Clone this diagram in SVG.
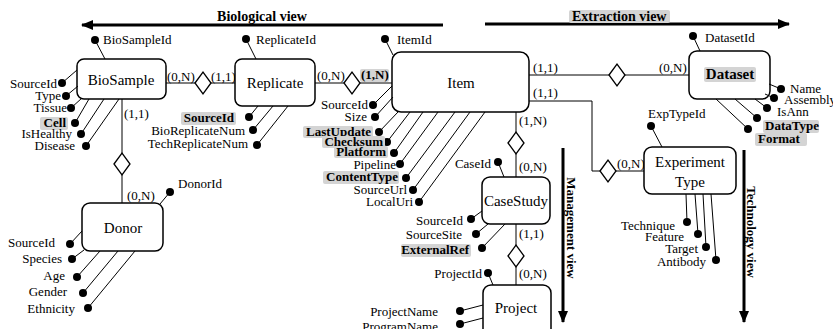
<svg xmlns="http://www.w3.org/2000/svg" width="833" height="329" viewBox="0 0 833 329">
<style>
.box{fill:#fff;stroke:#000;stroke-width:1.5}
.ln{stroke:#000;stroke-width:1;fill:none}
.dia{fill:#fff;stroke:#000;stroke-width:1.3}
.dot{fill:#000}
text{font-family:"Liberation Serif","Times New Roman",serif;fill:#000}
.t{font-size:13px}
.b{font-size:13px;font-weight:bold}
.n{font-size:15px}
.v{font-size:14px;font-weight:bold}
.vv{font-size:13px;font-weight:bold}
.e{text-anchor:end}
.m{text-anchor:middle}
.hl{fill:#d4d4d4}
.arr{stroke:#000;stroke-width:3;fill:none}
</style>
<defs>
<marker id="ah" viewBox="0 0 12 10" refX="11" refY="5" markerWidth="4" markerHeight="3.4" orient="auto" markerUnits="strokeWidth">
<path d="M0,0 L12,5 L0,10 Z" fill="#000"/>
</marker>
</defs>

<!-- views -->
<g id="views">
<line class="arr" x1="443" y1="25" x2="82" y2="25" marker-end="url(#ah)"/>
<text class="v m" x="262" y="21">Biological view</text>
<line class="arr" x1="485" y1="24" x2="789" y2="24" marker-end="url(#ah)"/>
<rect class="hl" x="569" y="10" width="101" height="13" rx="2"/>
<text class="v" x="572" y="21">Extraction view</text>
<line class="arr" x1="563" y1="148" x2="563" y2="322" marker-end="url(#ah)"/>
<text class="vv m" transform="translate(567,228) rotate(90)">Management view</text>
<line class="arr" x1="744" y1="150" x2="744" y2="322" marker-end="url(#ah)"/>
<text class="vv m" transform="translate(747,232) rotate(90)">Technology view</text>
</g>

<!-- connectors -->
<g id="connectors">
<line class="ln" x1="166" y1="83" x2="235" y2="83"/>
<polygon class="dia" points="195,83 203,72 211,83 203,94"/>
<line class="ln" x1="315" y1="83" x2="392" y2="83"/>
<polygon class="dia" points="344,83 352,72 360,83 352,94"/>
<line class="ln" x1="529" y1="75" x2="689" y2="75"/>
<polygon class="dia" points="609,75 617,64 625,75 617,86"/>
<polyline class="ln" points="529,101 592,101 592,171 644,171"/>
<polygon class="dia" points="600,171 608,160 616,171 608,182"/>
<line class="ln" x1="516" y1="112" x2="516" y2="177"/>
<polygon class="dia" points="508,143 516,132 524,143 516,154"/>
<line class="ln" x1="516" y1="224" x2="516" y2="285"/>
<polygon class="dia" points="508,256 516,245 524,256 516,267"/>
<line class="ln" x1="122" y1="99" x2="122" y2="203"/>
<polygon class="dia" points="114,164 122,153 130,164 122,175"/>
<text class="t" x="167" y="81">(0,N)</text>
<text class="t" x="211" y="81">(1,1)</text>
<text class="t" x="317" y="80">(0,N)</text>
<rect class="hl" x="360" y="69" width="29" height="13" rx="2"/>
<text class="b" x="361" y="79">(1,N)</text>
<text class="t" x="533" y="72">(1,1)</text>
<text class="t" x="659" y="72">(0,N)</text>
<text class="t" x="533" y="97">(1,1)</text>
<text class="t" x="617" y="168">(0,N)</text>
<text class="t" x="519" y="125">(1,N)</text>
<text class="t" x="519" y="171">(0,N)</text>
<text class="t" x="519" y="238">(1,1)</text>
<text class="t" x="519" y="278">(0,N)</text>
<text class="t" x="124" y="118">(1,1)</text>
<text class="t" x="127" y="200">(0,N)</text>
</g>

<g id="biosample">
<rect class="box" x="77" y="59" width="89" height="40" rx="7"/>
<text class="n m" x="121" y="85">BioSample</text>
<line class="ln" x1="95" y1="40" x2="105" y2="59"/><circle class="dot" cx="95" cy="40" r="4"/>
<text class="t" x="103" y="44">BioSampleId</text>
<line class="ln" x1="62" y1="83" x2="77" y2="70"/><circle class="dot" cx="62" cy="83" r="4"/>
<text class="t e" x="57" y="88">SourceId</text>
<line class="ln" x1="66" y1="96" x2="78" y2="86"/><circle class="dot" cx="66" cy="96" r="4"/>
<text class="t e" x="61" y="100">Type</text>
<line class="ln" x1="71" y1="108" x2="82" y2="98"/><circle class="dot" cx="71" cy="108" r="4"/>
<text class="t e" x="67" y="112">Tissue</text>
<line class="ln" x1="75" y1="123" x2="89" y2="99"/><circle class="dot" cx="75" cy="123" r="4"/>
<rect class="hl" x="40" y="117" width="28" height="13" rx="2"/>
<text class="b e" x="66" y="127">Cell</text>
<line class="ln" x1="81" y1="134" x2="104" y2="99"/><circle class="dot" cx="81" cy="134" r="4"/>
<text class="t e" x="72" y="138">IsHealthy</text>
<line class="ln" x1="86" y1="146" x2="119" y2="99"/><circle class="dot" cx="86" cy="146" r="4"/>
<text class="t e" x="75" y="150">Disease</text>
</g>

<g id="replicate">
<rect class="box" x="235" y="59" width="80" height="47" rx="7"/>
<text class="n m" x="275" y="88">Replicate</text>
<line class="ln" x1="246" y1="39" x2="256" y2="59"/><circle class="dot" cx="246" cy="39" r="4"/>
<text class="t" x="256" y="44">ReplicateId</text>
<line class="ln" x1="249" y1="117" x2="258" y2="106"/><circle class="dot" cx="249" cy="117" r="4"/>
<rect class="hl" x="181" y="112" width="55" height="13" rx="2"/>
<text class="b e" x="234" y="122">SourceId</text>
<line class="ln" x1="253" y1="130" x2="273" y2="106"/><circle class="dot" cx="253" cy="130" r="4"/>
<text class="t e" x="245" y="135">BioReplicateNum</text>
<line class="ln" x1="257" y1="145" x2="288" y2="106"/><circle class="dot" cx="257" cy="145" r="4"/>
<text class="t e" x="248" y="148">TechReplicateNum</text>
</g>

<g id="item">
<rect class="box" x="392" y="52" width="137" height="60" rx="9"/>
<text class="n m" x="461" y="88">Item</text>
<line class="ln" x1="385" y1="39" x2="393" y2="55"/><circle class="dot" cx="385" cy="39" r="4"/>
<text class="t" x="397" y="44">ItemId</text>
<line class="ln" x1="373" y1="105" x2="392" y2="86"/><circle class="dot" cx="373" cy="105" r="4"/>
<text class="t e" x="368" y="109">SourceId</text>
<line class="ln" x1="375" y1="117" x2="393" y2="97"/><circle class="dot" cx="375" cy="117" r="4"/>
<text class="t e" x="367" y="121">Size</text>
<line class="ln" x1="379" y1="132" x2="398" y2="112"/><circle class="dot" cx="379" cy="132" r="4"/>
<rect class="hl" x="303" y="126" width="70" height="12" rx="2"/>
<text class="b e" x="371" y="136">LastUpdate</text>
<line class="ln" x1="387" y1="142" x2="410" y2="112"/><circle class="dot" cx="387" cy="142" r="4"/>
<rect class="hl" x="322" y="136" width="63" height="12" rx="2"/>
<text class="b e" x="383" y="146">Checksum</text>
<line class="ln" x1="394" y1="153" x2="423" y2="112"/><circle class="dot" cx="394" cy="153" r="4"/>
<rect class="hl" x="334" y="146" width="54" height="12" rx="2"/>
<text class="b e" x="386" y="156">Platform</text>
<line class="ln" x1="400" y1="164" x2="438" y2="112"/><circle class="dot" cx="400" cy="164" r="4"/>
<text class="t e" x="396" y="169">Pipeline</text>
<line class="ln" x1="406" y1="178" x2="455" y2="112"/><circle class="dot" cx="406" cy="178" r="4"/>
<rect class="hl" x="323" y="171" width="76" height="13" rx="2"/>
<text class="b e" x="398" y="181">ContentType</text>
<line class="ln" x1="413" y1="190" x2="470" y2="112"/><circle class="dot" cx="413" cy="190" r="4"/>
<text class="t e" x="407" y="194">SourceUrl</text>
<line class="ln" x1="419" y1="202" x2="485" y2="112"/><circle class="dot" cx="419" cy="202" r="4"/>
<text class="t e" x="413" y="206">LocalUri</text>
</g>

<g id="dataset">
<rect class="box" x="689" y="51" width="81" height="48" rx="8"/>
<rect class="hl" x="704" y="67" width="52" height="15" rx="2"/>
<text class="n m" x="730" y="79" font-weight="bold">Dataset</text>
<line class="ln" x1="693" y1="36" x2="700" y2="51"/><circle class="dot" cx="693" cy="36" r="4"/>
<text class="t" x="705" y="42">DatasetId</text>
<line class="ln" x1="769" y1="84" x2="781" y2="89"/><circle class="dot" cx="781" cy="89" r="4"/>
<text class="t" x="790" y="93">Name</text>
<line class="ln" x1="765" y1="94" x2="774" y2="98"/><circle class="dot" cx="774" cy="98" r="4"/>
<text class="t" x="784" y="104">Assembly</text>
<line class="ln" x1="755" y1="99" x2="767" y2="108"/><circle class="dot" cx="767" cy="108" r="4"/>
<text class="t" x="777" y="116">IsAnn</text>
<line class="ln" x1="735" y1="99" x2="757" y2="118"/><circle class="dot" cx="757" cy="118" r="4"/>
<rect class="hl" x="763" y="120" width="56" height="13" rx="2"/>
<text class="b" x="765" y="130">DataType</text>
<line class="ln" x1="716" y1="99" x2="748" y2="129"/><circle class="dot" cx="748" cy="129" r="4"/>
<rect class="hl" x="755" y="133" width="52" height="13" rx="2"/>
<text class="b" x="758" y="143">Format</text>
</g>

<g id="experiment-type">
<rect class="box" x="644" y="147" width="92" height="47" rx="8"/>
<text class="n m" x="690" y="167">Experiment</text>
<text class="n m" x="690" y="187">Type</text>
<line class="ln" x1="651" y1="126" x2="662" y2="147"/><circle class="dot" cx="651" cy="126" r="4"/>
<text class="t" x="648" y="118">ExpTypeId</text>
<line class="ln" x1="686" y1="194" x2="687" y2="222"/><circle class="dot" cx="687" cy="222" r="4"/>
<text class="t e" x="675" y="230">Technique</text>
<line class="ln" x1="695" y1="194" x2="698" y2="234"/><circle class="dot" cx="698" cy="234" r="4"/>
<text class="t e" x="684" y="241">Feature</text>
<line class="ln" x1="703" y1="194" x2="706" y2="247"/><circle class="dot" cx="706" cy="247" r="4"/>
<text class="t e" x="698" y="253">Target</text>
<line class="ln" x1="711" y1="194" x2="716" y2="260"/><circle class="dot" cx="716" cy="260" r="4"/>
<text class="t e" x="706" y="266">Antibody</text>
</g>

<g id="casestudy">
<rect class="box" x="482" y="177" width="68" height="47" rx="8"/>
<text class="n m" x="516" y="206">CaseStudy</text>
<line class="ln" x1="498" y1="162" x2="504" y2="177"/><circle class="dot" cx="498" cy="162" r="4"/>
<text class="t e" x="491" y="168">CaseId</text>
<line class="ln" x1="482" y1="211" x2="471" y2="219"/><circle class="dot" cx="471" cy="219" r="4"/>
<text class="t e" x="463" y="225">SourceId</text>
<line class="ln" x1="488" y1="224" x2="476" y2="234"/><circle class="dot" cx="476" cy="234" r="4"/>
<text class="t e" x="462" y="239">SourceSite</text>
<line class="ln" x1="505" y1="224" x2="482" y2="248"/><circle class="dot" cx="482" cy="248" r="4"/>
<rect class="hl" x="401" y="244" width="70" height="13" rx="2"/>
<text class="b e" x="469" y="254">ExternalRef</text>
</g>

<g id="project">
<rect class="box" x="483" y="285" width="68" height="60" rx="8"/>
<text class="n m" x="516" y="313">Project</text>
<line class="ln" x1="488" y1="273" x2="493" y2="285"/><circle class="dot" cx="488" cy="273" r="4"/>
<text class="t e" x="482" y="278">ProjectId</text>
<line class="ln" x1="460" y1="311" x2="483" y2="305"/><circle class="dot" cx="460" cy="311" r="4"/>
<text class="t e" x="438" y="316">ProjectName</text>
<line class="ln" x1="460" y1="324" x2="483" y2="318"/><circle class="dot" cx="460" cy="324" r="4"/>
<text class="t e" x="438" y="331">ProgramName</text>
</g>

<g id="donor">
<rect class="box" x="82" y="203" width="81" height="48" rx="8"/>
<text class="n m" x="123" y="233">Donor</text>
<line class="ln" x1="170" y1="192" x2="160" y2="204"/><circle class="dot" cx="170" cy="192" r="4"/>
<text class="t" x="178" y="188">DonorId</text>
<line class="ln" x1="70" y1="244" x2="82" y2="231"/><circle class="dot" cx="70" cy="244" r="4"/>
<text class="t e" x="55" y="247">SourceId</text>
<line class="ln" x1="72" y1="259" x2="84" y2="250"/><circle class="dot" cx="72" cy="259" r="4"/>
<text class="t e" x="62" y="263">Species</text>
<line class="ln" x1="77" y1="277" x2="100" y2="251"/><circle class="dot" cx="77" cy="277" r="4"/>
<text class="t e" x="65" y="280">Age</text>
<line class="ln" x1="83" y1="293" x2="118" y2="251"/><circle class="dot" cx="83" cy="293" r="4"/>
<text class="t e" x="67" y="296">Gender</text>
<line class="ln" x1="88" y1="308" x2="135" y2="251"/><circle class="dot" cx="88" cy="308" r="4"/>
<text class="t e" x="75" y="313">Ethnicity</text>
</g>
</svg>
